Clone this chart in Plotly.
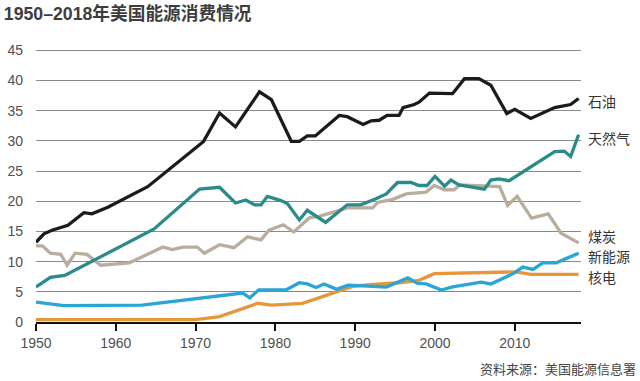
import plotly.graph_objects as go

oil_years = [1950, 1951, 1952, 1954, 1956, 1957, 1959, 1964, 1971, 1973, 1975, 1977, 1978, 1979.5, 1982, 1983, 1984, 1985, 1988, 1989, 1991, 1992, 1993, 1994, 1995.5, 1996, 1997.4, 1998, 1999.3, 2002.2, 2003.7, 2005.5, 2007, 2009, 2010, 2012, 2015, 2017, 2018]
oil = [13.2, 14.6, 15.2, 16.0, 18.1, 17.9, 19.0, 22.4, 29.9, 34.6, 32.3, 36.3, 38.1, 36.8, 29.9, 29.9, 30.8, 30.8, 34.2, 34.0, 32.7, 33.3, 33.4, 34.2, 34.2, 35.5, 36.0, 36.4, 37.9, 37.8, 40.3, 40.3, 39.2, 34.5, 35.2, 33.7, 35.5, 36.0, 37.0]

gas_years = [1950, 1951.8, 1953.6, 1964.8, 1970.5, 1973, 1975, 1976.3, 1977.4, 1978.2, 1979, 1980.7, 1981.5, 1983, 1984, 1985, 1986.3, 1989, 1990.7, 1992.6, 1993.9, 1995.3, 1997, 1998, 1999, 2000, 2001.2, 2002, 2003, 2006.2, 2007, 2008, 2009.3, 2015, 2016.2, 2017, 2018]
gas = [5.8, 7.4, 7.7, 15.4, 22.0, 22.3, 19.7, 20.2, 19.4, 19.4, 20.8, 20.1, 19.6, 16.9, 18.5, 17.6, 16.5, 19.4, 19.4, 20.4, 21.2, 23.1, 23.1, 22.6, 22.6, 24.1, 22.5, 23.5, 22.7, 22.0, 23.5, 23.7, 23.4, 28.2, 28.3, 27.4, 31.0]

coal_years = [1950, 1950.8, 1951.8, 1953.1, 1953.9, 1954.9, 1956.4, 1958.1, 1961.7, 1965.9, 1967.1, 1968.4, 1970.2, 1971.1, 1973, 1974.8, 1976.5, 1978.2, 1979.2, 1981, 1982.3, 1984.3, 1985.5, 1989, 1992.2, 1992.8, 1994.7, 1996.4, 1998.9, 1999.9, 2001.2, 2002.4, 2003.1, 2008.1, 2009.1, 2010.3, 2012.1, 2014.2, 2015.8, 2018]
coal = [12.6, 12.6, 11.4, 11.2, 9.4, 11.4, 11.2, 9.4, 9.8, 12.4, 12.0, 12.4, 12.4, 11.4, 12.8, 12.3, 14.1, 13.6, 15.2, 16.1, 14.9, 17.3, 17.5, 18.9, 18.9, 19.8, 20.3, 21.2, 21.5, 22.6, 21.9, 21.9, 22.7, 22.4, 19.3, 20.8, 17.2, 17.9, 14.7, 13.1]

nuke_years = [1950, 1970, 1973, 1977.8, 1979.5, 1983.4, 1989.7, 1991.8, 1995.5, 1998, 1999.9, 2005.6, 2010.2, 2012, 2018]
nuke = [0.4, 0.4, 0.9, 3.1, 2.8, 3.1, 5.9, 6.2, 6.5, 6.9, 8.0, 8.1, 8.3, 7.9, 7.9]

renew_years = [1950, 1953.5, 1963.3, 1973, 1975.9, 1976.8, 1977.9, 1981.3, 1983, 1984, 1985.1, 1986.1, 1987.7, 1989.1, 1993.9, 1996.6, 1997.8, 1998.9, 2000.8, 2002.2, 2005.8, 2007, 2009.8, 2011, 2012.3, 2013.5, 2015.2, 2018]
renew = [3.3, 2.7, 2.8, 4.3, 4.8, 4.0, 5.3, 5.3, 6.5, 6.3, 5.7, 6.3, 5.4, 6.1, 5.8, 7.3, 6.4, 6.3, 5.3, 5.8, 6.6, 6.3, 8.0, 9.1, 8.7, 9.8, 9.8, 11.4]

series = [
    ("石油", oil_years, oil, "#1b1b1b"),
    ("煤炭", coal_years, coal, "#b9ad9d"),
    ("天然气", gas_years, gas, "#2b8a8a"),
    ("核电", nuke_years, nuke, "#e8963a"),
    ("新能源", renew_years, renew, "#2aa6d6"),
]

label_names = ["石油", "天然气", "煤炭", "新能源", "核电"]
label_y = [36.5, 30.3, 14.1, 10.8, 7.3]

x_ticks = [1950, 1960, 1970, 1980, 1990, 2000, 2010]
y_ticks = [0, 5, 10, 15, 20, 25, 30, 35, 40, 45]

fig = go.Figure()
for name, xs, ys, color in series:
    fig.add_trace(go.Scatter(x=xs, y=ys, mode="lines", name=name,
                             line=dict(color=color, width=3.3), showlegend=False,
                             hoverinfo="skip"))

for name, yv in zip(label_names, label_y):
    fig.add_annotation(x=1, xref="paper", xanchor="left", xshift=5,
                       y=yv, yref="y", text=name, showarrow=False,
                       font=dict(size=14, color="#333333"))

fig.add_annotation(x=1, xref="paper", xanchor="right", xshift=57,
                   y=-0.175, yref="paper", yanchor="middle",
                   text="资料来源：美国能源信息署", showarrow=False,
                   font=dict(size=13, color="#444444"))

fig.update_layout(
    width=640, height=381,
    margin=dict(l=36, r=59, t=49, b=59, autoexpand=False),
    paper_bgcolor="white", plot_bgcolor="white",
    font=dict(family="Liberation Sans, Noto Sans CJK SC, sans-serif", color="#444444"),
    title=dict(text="<b>1950–2018年美国能源消费情况</b>", x=0.006, xanchor="left",
               y=0.963, yanchor="middle",
               font=dict(size=17.7, color="#3d3d3d",
                         family="Liberation Sans, Noto Sans CJK SC, sans-serif")),
)
fig.update_xaxes(range=[1950, 2018.3], tickvals=x_ticks, ticktext=[str(v) for v in x_ticks],
                 showgrid=False, zeroline=False, showline=True, linecolor="#111111",
                 linewidth=2, ticks="outside", ticklen=7, tickwidth=2, tickcolor="#111111",
                 automargin=False, tickfont=dict(size=14, color="#505050"))
fig.update_yaxes(range=[0, 45.2], tickvals=y_ticks, ticktext=[str(v) for v in y_ticks],
                 showgrid=True, gridcolor="#8a8a8a", gridwidth=1, zeroline=False,
                 showline=False, ticks="", ticklabelstandoff=12, automargin=False,
                 tickfont=dict(size=14, color="#505050"))

fig.write_html("out.html", config={"displayModeBar": False},
               post_script="document.body.style.margin='0';")
